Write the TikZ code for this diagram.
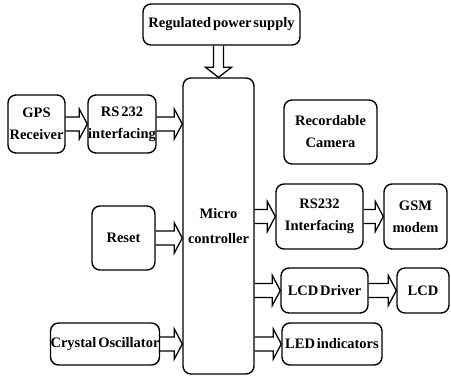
\documentclass[tikz,border=0pt]{standalone}
\usepackage{fontspec}
\setmainfont{Liberation Serif}[WordSpace=0.5]
\usetikzlibrary{calc}
\tikzset{
  blk/.style={draw, line width=1.4pt, rounded corners=8pt, inner sep=0pt, align=center,
    font=\fontsize{14.5}{22}\selectfont\bfseries},
  harrow/.style={line width=1.3pt, line join=miter, to path={
    ($(\tikztostart)+(0,-7)$) -- ($(\tikztotarget)+(-8,-7)$) -- ($(\tikztotarget)+(-8,-15)$)
    -- (\tikztotarget) -- ($(\tikztotarget)+(-8,15)$) -- ($(\tikztotarget)+(-8,7)$)
    -- ($(\tikztostart)+(0,7)$)}},
  varrow/.style={line width=1.3pt, line join=miter, to path={
    ($(\tikztostart)+(-5,0)$) -- ($(\tikztotarget)+(-5,-10)$) -- ($(\tikztotarget)+(-13,-10)$)
    -- (\tikztotarget) -- ($(\tikztotarget)+(13,-10)$) -- ($(\tikztotarget)+(5,-10)$)
    -- ($(\tikztostart)+(5,0)$)}}
}
\begin{document}
\begin{tikzpicture}[x=1pt,y=-1pt]
\useasboundingbox (0,0) rectangle (451,376);
\node[blk, minimum width=157pt, minimum height=41pt] (power) at (221.5,24.5) {Regulated power supply};
\node[blk, minimum width=71pt, minimum height=296pt, font=\fontsize{14.5}{25}\selectfont\bfseries] (micro) at (218.5,226) {Micro\\controller};
\node[blk, minimum width=57pt, minimum height=58pt] (gps) at (36.5,124) {GPS\\Receiver};
\node[blk, minimum width=68pt, minimum height=58pt] (rs1) at (122,124) {RS 232\\interfacing};
\node[blk, minimum width=93pt, minimum height=64pt] (cam) at (330.5,132) {Recordable\\Camera};
\node[blk, minimum width=63pt, minimum height=64pt] (reset) at (123.5,238) {Reset};
\node[blk, minimum width=106pt, minimum height=42pt] (xtal) at (105,344) {Crystal Oscillator};
\node[blk, minimum width=87pt, minimum height=65pt] (rs2) at (319.5,216.5) {RS232\\Interfacing};
\node[blk, minimum width=63pt, minimum height=65pt] (gsm) at (415.5,216.5) {GSM\\modem};
\node[blk, minimum width=87pt, minimum height=45pt] (lcdd) at (324.5,290.5) {LCD Driver};
\node[blk, minimum width=52pt, minimum height=45pt] (lcd) at (423,290.5) {LCD};
\node[blk, minimum width=100pt, minimum height=42pt] (led) at (332,344) {LED indicators};

\draw[varrow] (power.south -| micro.north) to (micro.north);
\draw[harrow] (gps.east) to (gps.east -| rs1.west);
\draw[harrow] (rs1.east) to (rs1.east -| micro.west);
\draw[harrow] (reset.east) to (reset.east -| micro.west);
\draw[harrow] (xtal.east) to (xtal.east -| micro.west);
\draw[harrow] (micro.east |- rs2.west) to (rs2.west);
\draw[harrow] (rs2.east) to (rs2.east -| gsm.west);
\draw[harrow] (micro.east |- lcdd.west) to (lcdd.west);
\draw[harrow] (lcdd.east) to (lcdd.east -| lcd.west);
\draw[harrow] (micro.east |- led.west) to (led.west);
\end{tikzpicture}
\end{document}
